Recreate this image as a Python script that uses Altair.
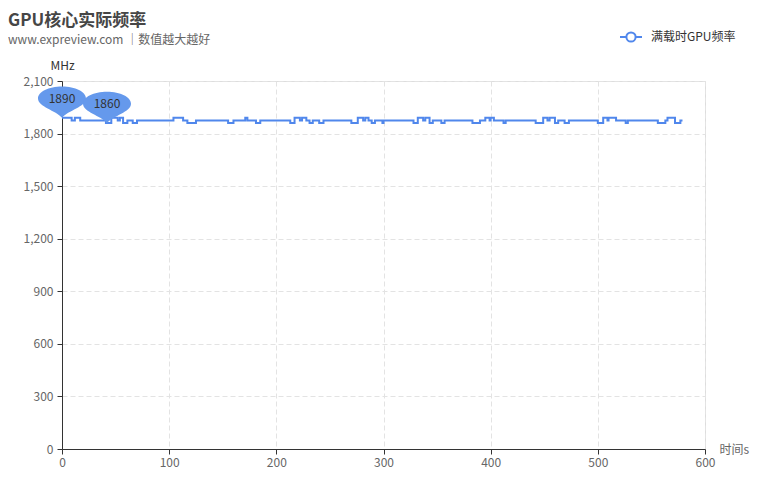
import altair as alt
import pandas as pd

# change points of the frequency trace (seconds, MHz)
times = [0, 9, 12, 17, 41, 46, 52, 54, 57, 61, 66, 70, 104, 113, 117, 125, 155, 160, 171, 173,
         181, 185, 213, 217, 222, 224, 228, 231, 234, 240, 244, 270, 276, 281, 283, 286, 289, 292,
         299, 300, 328, 332, 337, 339, 343, 346, 354, 357, 383, 390, 395, 399, 400, 403, 412, 414,
         442, 449, 453, 455, 460, 463, 469, 473, 500, 505, 509, 510, 517, 526, 528, 556, 563, 565,
         572, 577, 579]
freqs = [1890, 1875, 1890, 1875, 1860, 1890, 1875, 1890, 1860, 1875, 1860, 1875, 1890, 1875, 1860, 1875, 1860, 1875, 1890, 1875,
         1860, 1875, 1860, 1890, 1875, 1890, 1875, 1860, 1875, 1860, 1875, 1860, 1890, 1875, 1890, 1875, 1860, 1875,
         1860, 1875, 1860, 1890, 1875, 1890, 1860, 1875, 1860, 1875, 1860, 1875, 1890, 1875, 1890, 1875, 1860, 1875,
         1860, 1890, 1875, 1890, 1860, 1875, 1860, 1875, 1860, 1890, 1875, 1890, 1875, 1860, 1875, 1860, 1875, 1890,
         1860, 1875, 1875]

pin_times = [0, 42]
pin_freqs = [1890, 1860]

series_name = "满载时GPU频率"
x_ticks = [0, 100, 200, 300, 400, 500, 600]
y_ticks = [0, 300, 600, 900, 1200, 1500, 1800, 2100]

FONT = "Noto Sans CJK SC"
LINE_COLOR = "#5087ec"
PIN_COLOR = "#6599ec"

df = pd.DataFrame({"t": times, "f": freqs, "series": series_name})
pins = pd.DataFrame({"t": pin_times, "f": pin_freqs, "label": [str(v) for v in pin_freqs]})

x_enc = alt.X("t:Q", scale=alt.Scale(domain=[0, 600], nice=False, zero=True),
              axis=alt.Axis(values=x_ticks, format="d", title="时间s", titleAnchor="end",
                            titleX=657, titleY=0, titleAlign="left", titleBaseline="middle",
                            titleFontWeight="normal", titleColor="#666", titleFontSize=12,
                            titleFont=FONT, labelFlush=False,
                            labelFont=FONT, labelFontSize=12, labelColor="#666",
                            labelPadding=3, tickSize=5, tickColor="#333",
                            domainColor="#333", grid=True, gridDash=[5, 3],
                            gridColor="#e3e3e3"))
y_enc = alt.Y("f:Q", scale=alt.Scale(domain=[0, 2100], nice=False),
              axis=alt.Axis(values=y_ticks, format=",d", title="MHz", titleAngle=0,
                            titleX=0, titleY=-9, titleAlign="center", titleBaseline="bottom",
                            titleFontWeight="normal", titleColor="#333", titleFontSize=12,
                            titleFont=FONT, labelFlush=False,
                            labelFont=FONT, labelFontSize=12, labelColor="#666",
                            labelPadding=4, tickSize=5, tickColor="#333",
                            domainColor="#333", grid=True, gridDash=[5, 3],
                            gridColor="#e3e3e3"))

legend_symbol = ("M-1,0 L-0.42,0 M1,0 L0.42,0 "
                 "M0.42,0 A0.42,0.42 0 1 1 -0.42,0 A0.42,0.42 0 1 1 0.42,0 Z")

line = alt.Chart(df).mark_line(interpolate="step-after", strokeWidth=2).encode(
    x=x_enc,
    y=y_enc,
    color=alt.Color("series:N", scale=alt.Scale(range=[LINE_COLOR]),
                    legend=alt.Legend(title=None, orient="none", legendX=557, legendY=-56,
                                      symbolType=legend_symbol, symbolSize=484,
                                      symbolStrokeWidth=2, symbolFillColor="white",
                                      labelFont=FONT, labelFontSize=12, labelColor="#333",
                                      labelOffset=8)),
)

pin_path = ("M0,0 C-0.25,-0.3 -1,-0.45 -1,-0.8 A1,0.5 0 1 1 1,-0.8 "
            "C1,-0.45 0.25,-0.3 0,0 Z")

pin_marks = alt.Chart(pins).mark_point(shape=pin_path, size=2304, filled=True,
                                       color=PIN_COLOR, opacity=1, strokeWidth=0).encode(
    x="t:Q", y="f:Q")
pin_text = alt.Chart(pins).mark_text(dy=-19, font=FONT, fontSize=12, color="#333").encode(
    x="t:Q", y="f:Q", text="label:N")

chart = alt.layer(line, pin_marks, pin_text).properties(
    width=643, height=368,
    autosize=alt.AutoSizeParams(type="none"),
    padding={"left": 54, "top": 73, "right": 52, "bottom": 23},
    title=alt.Title("GPU核心实际频率", subtitle="www.expreview.com ｜数值越大越好",
                    anchor="start", frame="group", dx=-54, dy=36, offset=14,
                    font=FONT, fontSize=17, fontWeight="bold", color="#464646",
                    subtitleFont=FONT, subtitleFontSize=12, subtitleColor="#666",
                    subtitlePadding=5),
).configure_view(stroke=None).configure(background="white")

chart.save("out.html", embed_options={"renderer": "svg", "actions": False})
